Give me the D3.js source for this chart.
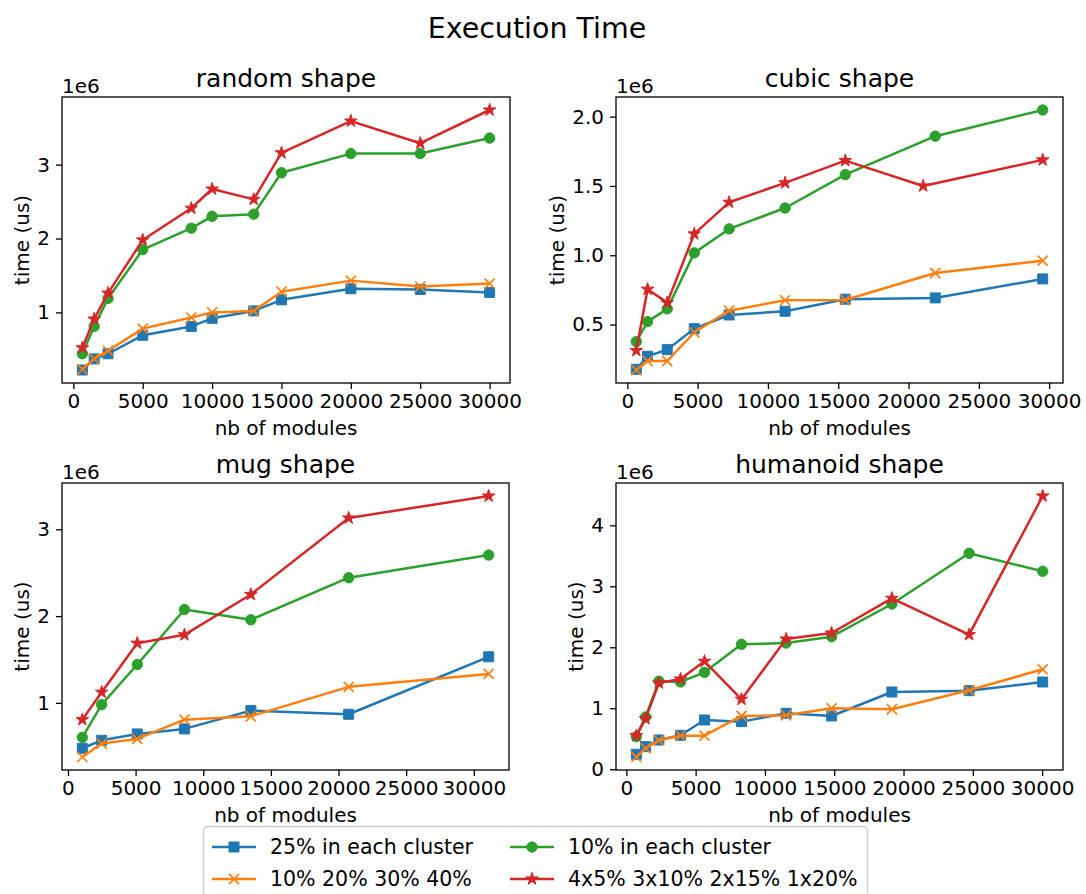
<!DOCTYPE html>
<html>
<head>
  <meta charset="utf-8">
  <title>Execution Time</title>
  <script src="https://d3js.org/d3.v7.min.js"></script>
  <style>
    body { margin: 0; background: #fff; font-family: 'DejaVu Sans', sans-serif; }
    text { fill: #000; }
  </style>
</head>
<body>
  <div id="chart"></div>
  <script>
    // times are in units of 1e6 us (the "1e6" offset shown on each axis)
    var seriesNames = ["25% in each cluster", "10% 20% 30% 40%", "10% in each cluster", "4x5% 3x10% 2x15% 1x20%"];
    var colors = ["#1f77b4", "#ff7f0e", "#2ca02c", "#d62728"];

    var randomX   = [650, 1500, 2500, 5000, 8500, 10000, 13000, 15000, 20000, 25000, 30000];
    var random25  = [0.22, 0.37, 0.44, 0.69, 0.81, 0.92, 1.02, 1.17, 1.32, 1.31, 1.27];
    var random10to40 = [0.23, 0.37, 0.48, 0.78, 0.93, 1.00, 1.02, 1.28, 1.43, 1.35, 1.39];
    var random10  = [0.44, 0.81, 1.19, 1.85, 2.14, 2.30, 2.33, 2.89, 3.15, 3.15, 3.36];
    var randomMix = [0.52, 0.91, 1.26, 1.98, 2.41, 2.67, 2.53, 3.16, 3.59, 3.29, 3.74];

    var cubicX    = [640, 1440, 2840, 4760, 7240, 11220, 15500, 21900, 29540];
    var cubicXMix = [640, 1440, 2840, 4760, 7240, 11220, 15500, 21040, 29540];
    var cubic25   = [0.177, 0.271, 0.319, 0.47, 0.569, 0.596, 0.683, 0.692, 0.829];
    var cubic10to40 = [0.172, 0.237, 0.237, 0.444, 0.60, 0.675, 0.677, 0.872, 0.961];
    var cubic10   = [0.377, 0.521, 0.613, 1.017, 1.19, 1.341, 1.582, 1.859, 2.048];
    var cubicMix  = [0.312, 0.755, 0.658, 1.154, 1.382, 1.522, 1.683, 1.50, 1.688];

    var mugX      = [1060, 2490, 5120, 8610, 13520, 20750, 31100];
    var mug25     = [0.477, 0.569, 0.642, 0.70, 0.911, 0.869, 1.531];
    var mug10to40 = [0.377, 0.531, 0.585, 0.807, 0.846, 1.185, 1.334];
    var mug10     = [0.603, 0.98, 1.442, 2.076, 1.957, 2.442, 2.703];
    var mugMix    = [0.807, 1.123, 1.688, 1.784, 2.249, 3.13, 3.383];

    var humX      = [720, 1390, 2350, 3910, 5640, 8310, 11530, 14810, 19160, 24730, 30040];
    var hum25     = [0.246, 0.371, 0.48, 0.557, 0.808, 0.781, 0.918, 0.874, 1.267, 1.289, 1.431];
    var hum10to40 = [0.202, 0.344, 0.475, 0.551, 0.551, 0.874, 0.885, 1.0, 0.984, 1.295, 1.639];
    var hum10     = [0.535, 0.857, 1.443, 1.432, 1.59, 2.049, 2.07, 2.174, 2.71, 3.541, 3.246];
    var humMix    = [0.551, 0.83, 1.415, 1.48, 1.77, 1.148, 2.136, 2.234, 2.803, 2.207, 4.48];

    var xTicks = [0, 5000, 10000, 15000, 20000, 25000, 30000];
    var randomYTicks = [1, 2, 3];
    var cubicYTicks = [0.5, 1.0, 1.5, 2.0];
    var mugYTicks = [1, 2, 3];
    var humYTicks = [0, 1, 2, 3, 4];

    var panels = [
      {title: "random shape", xs: [randomX, randomX, randomX, randomX], ys: [random25, random10to40, random10, randomMix], yTicks: randomYTicks, fmt: d3.format("d"),
       box: {x0: 62, x1: 510, y0: 97, y1: 383}},
      {title: "cubic shape", xs: [cubicX, cubicX, cubicX, cubicXMix], ys: [cubic25, cubic10to40, cubic10, cubicMix], yTicks: cubicYTicks, fmt: d3.format(".1f"),
       box: {x0: 616, x1: 1063, y0: 97, y1: 383}},
      {title: "mug shape", xs: [mugX, mugX, mugX, mugX], ys: [mug25, mug10to40, mug10, mugMix], yTicks: mugYTicks, fmt: d3.format("d"),
       box: {x0: 62, x1: 509, y0: 483, y1: 770}},
      {title: "humanoid shape", xs: [humX, humX, humX, humX], ys: [hum25, hum10to40, hum10, humMix], yTicks: humYTicks, fmt: d3.format("d"),
       box: {x0: 616, x1: 1063, y0: 483, y1: 770}}
    ];

    var W = 1086, H = 894;
    var svg = d3.select("#chart").append("svg")
      .attr("width", W).attr("height", H);

    svg.append("text")
      .attr("x", 537).attr("y", 38)
      .attr("text-anchor", "middle")
      .style("font-size", "28.5px")
      .text("Execution Time");

    var symbols = [d3.symbolSquare, d3.symbolTimes, d3.symbolCircle, d3.symbolStar];
    var symSizes = [100, 68, 85, 50];

    function drawMarker(g, i, cx, cy) {
      var p = g.append("path")
        .attr("transform", "translate(" + cx + "," + cy + ")")
        .attr("d", d3.symbol().type(symbols[i]).size(symSizes[i])());
      if (i === 1) {
        p.attr("fill", "none").attr("stroke", colors[i]).attr("stroke-width", 1.7);
      } else {
        p.attr("fill", colors[i]).attr("stroke", colors[i]).attr("stroke-width", 1);
      }
    }

    function padded(ext) {
      var span = ext[1] - ext[0];
      return [ext[0] - 0.05 * span, ext[1] + 0.05 * span];
    }

    panels.forEach(function(p) {
      var b = p.box;
      var allX = d3.merge(p.xs), allY = d3.merge(p.ys);
      var x = d3.scaleLinear().domain(padded(d3.extent(allX))).range([b.x0, b.x1]);
      var y = d3.scaleLinear().domain(padded(d3.extent(allY))).range([b.y1, b.y0]);

      var g = svg.append("g");

      g.append("g")
        .attr("transform", "translate(0," + b.y1 + ")")
        .call(d3.axisBottom(x).tickValues(xTicks).tickSize(6).tickPadding(5).tickFormat(d3.format("d")))
        .call(a => a.select(".domain").remove())
        .call(a => a.selectAll("line").attr("stroke-width", 1.3))
        .call(a => a.selectAll("text").style("font-size", "20px").attr("font-family", "DejaVu Sans"));

      var yAxis = g.append("g")
        .attr("transform", "translate(" + b.x0 + ",0)")
        .call(d3.axisLeft(y).tickValues(p.yTicks).tickSize(6).tickPadding(6).tickFormat(p.fmt))
        .call(a => a.select(".domain").remove())
        .call(a => a.selectAll("line").attr("stroke-width", 1.3))
        .call(a => a.selectAll("text").style("font-size", "20px").attr("font-family", "DejaVu Sans"));

      // widest y tick label decides where the y label goes
      var maxW = d3.max(yAxis.selectAll("text").nodes(), n => n.getComputedTextLength());

      var clipId = "clip" + b.x0 + "_" + b.y0;
      g.append("clipPath").attr("id", clipId).append("rect")
        .attr("x", b.x0).attr("y", b.y0).attr("width", b.x1 - b.x0).attr("height", b.y1 - b.y0);

      var plot = g.append("g").attr("clip-path", "url(#" + clipId + ")");
      p.ys.forEach(function(vals, i) {
        var pts = vals.map(function(v, k) { return [p.xs[i][k], v]; });
        plot.append("path")
          .datum(pts)
          .attr("fill", "none")
          .attr("stroke", colors[i])
          .attr("stroke-width", 2.5)
          .attr("stroke-linejoin", "round")
          .attr("d", d3.line().x(d => x(d[0])).y(d => y(d[1])));
        pts.forEach(function(d) { drawMarker(plot, i, x(d[0]), y(d[1])); });
      });

      g.append("rect")
        .attr("x", b.x0).attr("y", b.y0)
        .attr("width", b.x1 - b.x0).attr("height", b.y1 - b.y0)
        .attr("fill", "none").attr("stroke", "#000").attr("stroke-width", 1.3);

      g.append("text")
        .attr("x", (b.x0 + b.x1) / 2).attr("y", b.y0 - 10)
        .attr("text-anchor", "middle")
        .style("font-size", "25px")
        .text(p.title);

      g.append("text")
        .attr("x", b.x0).attr("y", b.y0 - 4)
        .style("font-size", "20px")
        .text("1e6");

      g.append("text")
        .attr("x", (b.x0 + b.x1) / 2).attr("y", b.y1 + 52)
        .attr("text-anchor", "middle")
        .style("font-size", "20px")
        .text("nb of modules");

      g.append("text")
        .attr("transform", "translate(" + (b.x0 - 12 - maxW - 8) + "," + ((b.y0 + b.y1) / 2) + ") rotate(-90)")
        .attr("text-anchor", "middle")
        .style("font-size", "20px")
        .text("time (us)");
    });

    // legend
    var leg = svg.append("g");
    leg.append("rect")
      .attr("x", 203.5).attr("y", 826.5).attr("width", 664).attr("height", 70)
      .attr("rx", 4)
      .attr("fill", "#fff").attr("fill-opacity", 0.8)
      .attr("stroke", "#ccc").attr("stroke-width", 1.3);

    var legPos = [[212, 847], [212, 879], [510, 847], [510, 879]];
    seriesNames.forEach(function(name, i) {
      var lx = legPos[i][0], ly = legPos[i][1];
      leg.append("line")
        .attr("x1", lx).attr("x2", lx + 44).attr("y1", ly).attr("y2", ly)
        .attr("stroke", colors[i]).attr("stroke-width", 2.5);
      drawMarker(leg, i, lx + 22, ly);
      leg.append("text")
        .attr("x", lx + 58).attr("y", ly)
        .attr("dy", "0.35em")
        .style("font-size", "20.5px")
        .text(name);
    });
  </script>
</body>
</html>
